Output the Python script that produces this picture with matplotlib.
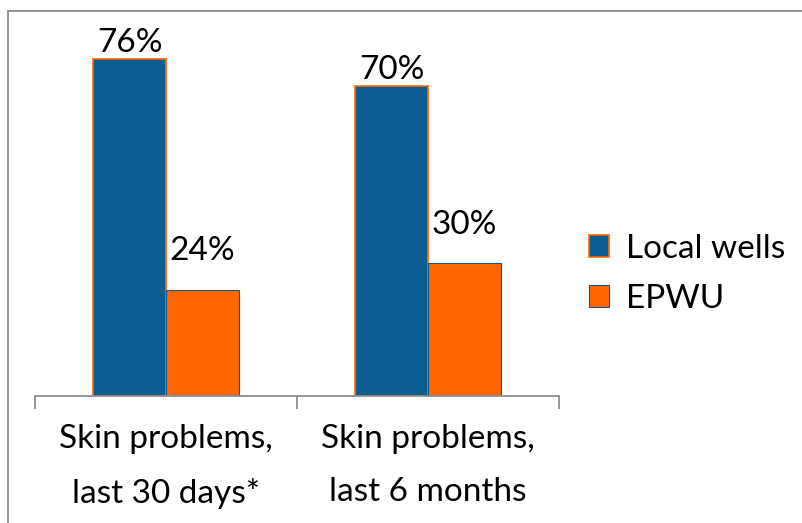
import matplotlib
matplotlib.use('Agg')
import matplotlib.pyplot as plt
from matplotlib.patches import Rectangle
import numpy as np

categories = ['Skin problems,\nlast 30 days*', 'Skin problems,\nlast 6 months']
series_names = ['Local wells', 'EPWU']
local_wells = [76, 70]
epwu = [24, 30]

BLUE = '#0B5D91'
ORANGE = '#FF6600'

plt.rcParams['font.family'] = ['Lato', 'DejaVu Sans']

fig = plt.figure(figsize=(8.03, 5.23), dpi=100)
fig.patches.append(Rectangle((8 / 803, -0.1), 1.2, 1 - 11 / 523 + 0.1,
                             transform=fig.transFigure, fill=False,
                             edgecolor='#8c8c8c', linewidth=1.3))

ax = fig.add_axes([35 / 803, 1 - 396 / 523, 524 / 803, (396 - 41.5) / 523])

x = np.arange(len(categories))
w = 0.277
b1 = ax.bar(x - w / 2, local_wells, w, color=BLUE, edgecolor=ORANGE,
            linewidth=1.2, label=series_names[0])
b2 = ax.bar(x + w / 2, epwu, w, color=ORANGE, edgecolor=BLUE,
            linewidth=0.8, label=series_names[1])

# excel put the orange labels further up than the blue ones
for bars, off in ((b1, 5), (b2, 21)):
    for r in bars:
        ax.annotate('{:d}%'.format(int(r.get_height())),
                    (r.get_x() + r.get_width() / 2, r.get_height()),
                    xytext=(0, off), textcoords='offset points',
                    ha='center', va='baseline', fontsize=24)

ax.set_xlim(-0.5, 1.5)
ax.set_ylim(0, 80)
ax.set_yticks([])
for s in ['top', 'right', 'left']:
    ax.spines[s].set_visible(False)
ax.spines['bottom'].set_color('#8c8c8c')
ax.spines['bottom'].set_linewidth(1.3)

ax.set_xticks([-0.5, 0.5, 1.5])
ax.set_xticklabels([])
ax.tick_params(axis='x', length=9, width=1.3, color='#8c8c8c')
ax.set_xticks(x, minor=True)
ax.set_xticklabels(categories, minor=True, fontsize=24, linespacing=1.95)
ax.tick_params(axis='x', which='minor', length=0, pad=20)

ax.legend(loc='center left', bbox_to_anchor=(1.0, 0.345), frameon=False,
          fontsize=24, handlelength=0.6, handleheight=0.6,
          handletextpad=0.5, labelspacing=0.6)

fig.savefig('out.png', dpi=100)
